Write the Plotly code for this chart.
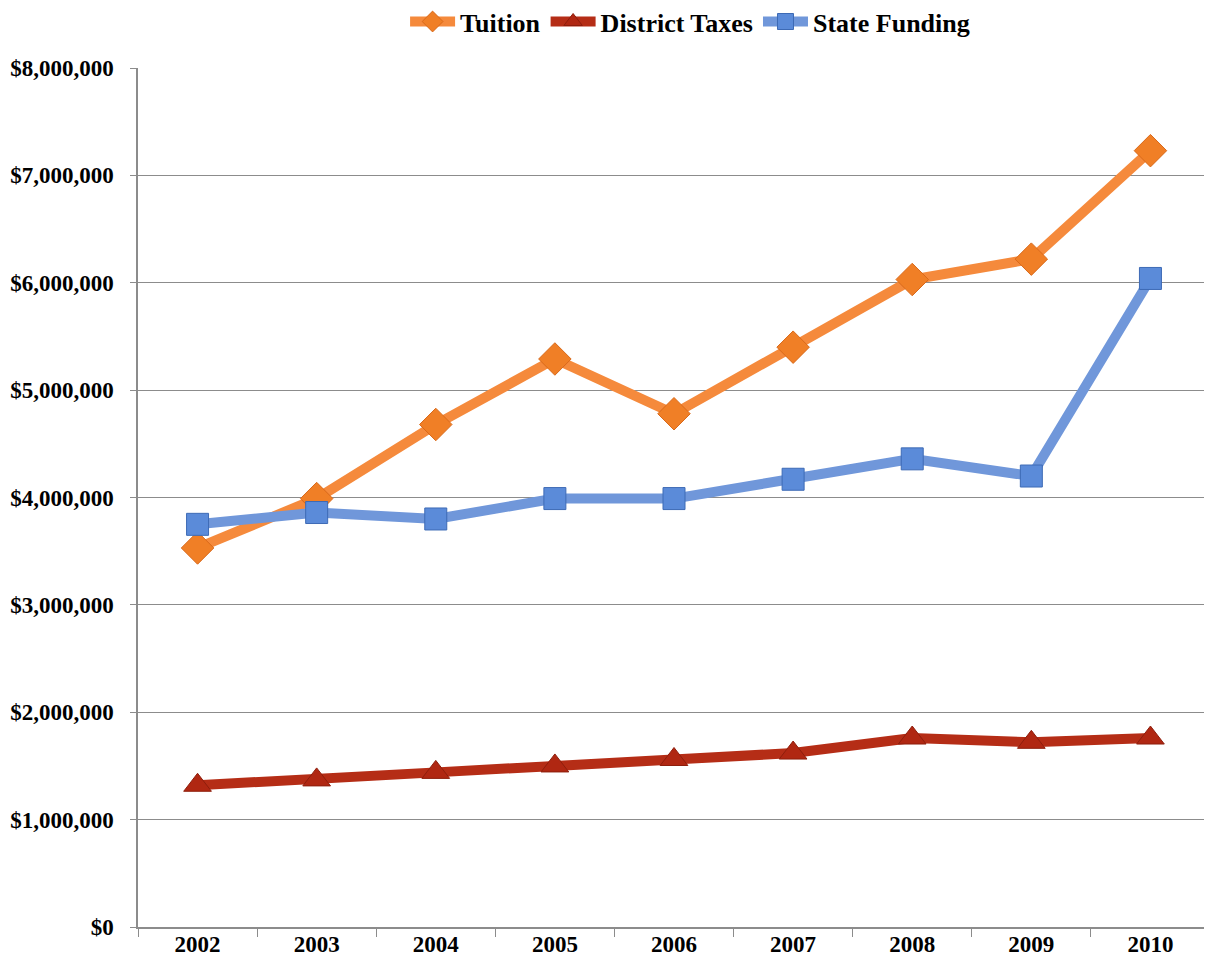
import plotly.graph_objects as go

years = ["2002", "2003", "2004", "2005", "2006", "2007", "2008", "2009", "2010"]
tuition = [3530000, 3990000, 4680000, 5290000, 4780000, 5400000, 6030000, 6220000, 7230000]
district_taxes = [1320000, 1370000, 1440000, 1500000, 1560000, 1620000, 1760000, 1720000, 1760000]
state_funding = [3750000, 3860000, 3800000, 3990000, 3990000, 4170000, 4360000, 4200000, 6040000]
y_ticks = [0, 1000000, 2000000, 3000000, 4000000, 5000000, 6000000, 7000000, 8000000]
y_labels = ["$" + format(v, ",") for v in y_ticks]

font_family = "Liberation Serif, DejaVu Serif, serif"

fig = go.Figure()
fig.add_trace(go.Scatter(
    x=years, y=tuition, name="Tuition", mode="lines+markers",
    line=dict(color="#F58A3C", width=10),
    marker=dict(symbol="diamond", size=25, color="#F07F26",
                line=dict(color="#D9691A", width=1)),
))
fig.add_trace(go.Scatter(
    x=years, y=district_taxes, name="District Taxes", mode="lines+markers",
    line=dict(color="#B52D16", width=10),
    marker=dict(symbol="triangle-up", size=24, color="#B02712",
                line=dict(color="#8E1E0C", width=1)),
))
fig.add_trace(go.Scatter(
    x=years, y=state_funding, name="State Funding", mode="lines+markers",
    line=dict(color="#7097DA", width=10),
    marker=dict(symbol="square", size=22, color="#5B8BD9",
                line=dict(color="#3D6AB5", width=1)),
))

# page body adds 8px around the plot, so the figure is 8px smaller
fig.update_layout(
    width=1204, height=968,
    margin=dict(l=130, r=2, t=60, b=49, autoexpand=False),
    paper_bgcolor="white", plot_bgcolor="white",
    font=dict(family=font_family, size=23, color="black", weight="bold"),
    legend=dict(orientation="h", x=0.515, xanchor="center", y=1.054, yanchor="middle",
                font=dict(size=26, weight="bold"), itemwidth=45,
                traceorder="normal"),
    xaxis=dict(
        type="category", showgrid=False, showline=True, linecolor="#8C8C8C", linewidth=1.5,
        ticks="outside", tickson="boundaries", ticklen=8, tickcolor="#8C8C8C",
        ticklabelstandoff=-4,
        tickfont=dict(size=23, weight="bold"), range=[-0.5, 8.5],
    ),
    yaxis=dict(
        range=[0, 8000000], tickvals=y_ticks, ticktext=y_labels,
        showgrid=True, gridcolor="#8C8C8C", gridwidth=1,
        showline=True, linecolor="#8C8C8C", linewidth=1.5,
        ticks="outside", ticklen=6, tickcolor="#8C8C8C", ticklabelstandoff=12,
        tickfont=dict(size=23, weight="bold"), zeroline=False,
    ),
)

fig.write_html("out.html")
